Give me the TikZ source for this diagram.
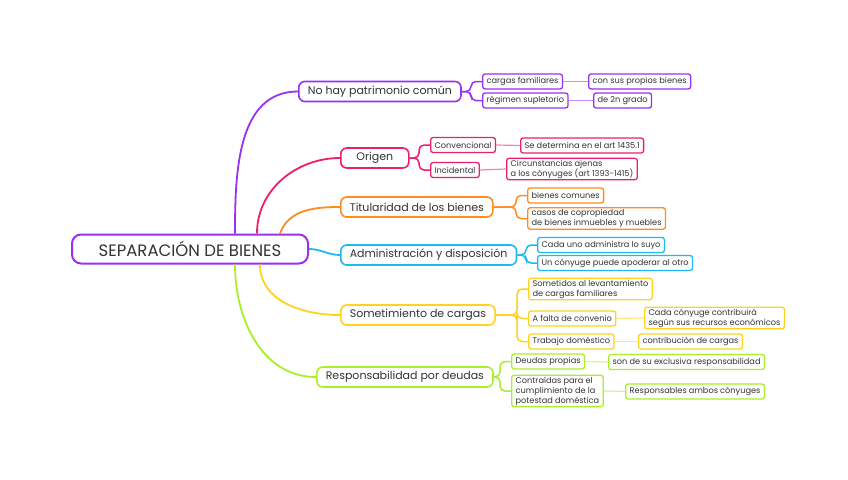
\documentclass[tikz,border=0pt]{standalone}
\usepackage{fontspec}
\setmainfont{Poppins}
\usetikzlibrary{positioning,calc}
\definecolor{mpurple}{HTML}{9B30F0}
\definecolor{mpink}{HTML}{EE1E6E}
\definecolor{morange}{HTML}{FF8C1E}
\definecolor{mcyan}{HTML}{1EB9F0}
\definecolor{myellow}{HTML}{FFD21E}
\definecolor{mlime}{HTML}{A8F028}
\definecolor{ink}{HTML}{333333}
\tikzset{
  rootbox/.style={
    rectangle, draw=#1, fill=white, line width=2pt, rounded corners=9pt,
    minimum width=236pt, minimum height=29pt,
    font=\fontsize{16.5}{18}\selectfont, text=ink
  },
  rootbox/.default=mpurple,
  topicbox/.style={
    rectangle, draw=#1, fill=white, line width=1.6pt, rounded corners=6pt,
    minimum height=20pt, inner xsep=9pt, inner ysep=1pt, anchor=west,
    font=\fontsize{11}{13}\selectfont, text=ink
  },
  topicbox/.default=mpurple,
  leafbox/.style={
    rectangle, draw=#1, fill=white, line width=1.3pt, rounded corners=2.5pt,
    minimum height=15pt, inner xsep=4pt, inner ysep=1.5pt, anchor=west,
    font=\fontsize{8.2}{10}\selectfont, text=ink, align=left
  },
  leafbox/.default=mpurple,
  branchline/.style={line width=1.8pt, color=#1},
  twigline/.style={line width=1.5pt, color=#1, rounded corners=5pt},
  linkline/.style={line width=1.2pt, color=#1!55},
}

\begin{document}
\begin{tikzpicture}[x=1pt,y=-1pt]
  \fill[white] (0,0) rectangle (848,479);
  \useasboundingbox (0,0) rectangle (848,479);

  % Root
  \node[rootbox] (root) at (190,249) {SEPARACIÓN DE BIENES};

  % Topics
  \node[topicbox=mpurple] (patrim) at (298,91.5) {No hay patrimonio común};
  \node[topicbox=mpink, minimum width=68pt] (origen) at (340,158) {Origen};
  \node[topicbox=morange] (titul) at (340,207) {Titularidad de los bienes};
  \node[topicbox=mcyan] (admin) at (340,255) {Administración y disposición};
  \node[topicbox=myellow] (somet) at (340,315) {Sometimiento de cargas};
  \node[topicbox=mlime] (respon) at (316,377) {Responsabilidad por deudas};

  % Patrimonio leaves
  \node[leafbox=mpurple] (cargfam) at (482,81.5) {cargas familiares};
  \node[leafbox=mpurple] (propios) at (588,81.5) {con sus propios bienes};
  \node[leafbox=mpurple] (regimen) at (482,100.5) {régimen supletorio};
  \node[leafbox=mpurple] (grado) at (593,100.5) {de 2n grado};

  % Origen leaves
  \node[leafbox=mpink] (conv) at (430,145) {Convencional};
  \node[leafbox=mpink] (art) at (520,145.5) {Se determina en el art 1435.1};
  \node[leafbox=mpink] (incid) at (430,170) {Incidental};
  \node[leafbox=mpink] (circ) at (506,169) {Circunstancias ajenas\\a los cónyuges (art 1393-1415)};

  % Titularidad leaves
  \node[leafbox=morange] (comunes) at (527,195.5) {bienes comunes};
  \node[leafbox=morange] (copro) at (527,218.5) {casos de copropiedad\\de bienes inmuebles y muebles};

  % Administracion leaves
  \node[leafbox=mcyan] (cadauno) at (537,245) {Cada uno administra lo suyo};
  \node[leafbox=mcyan] (apoder) at (537,263) {Un cónyuge puede apoderar al otro};

  % Sometimiento leaves
  \node[leafbox=myellow] (levant) at (528,289) {Sometidos al levantamiento\\de cargas familiares};
  \node[leafbox=myellow] (falta) at (528,318.5) {A falta de convenio};
  \node[leafbox=myellow] (recur) at (644,318) {Cada cónyuge contribuirá\\según sus recursos económicos};
  \node[leafbox=myellow] (trabajo) at (528,341.5) {Trabajo doméstico};
  \node[leafbox=myellow] (contrib) at (638,341.5) {contribución de cargas};

  % Responsabilidad leaves
  \node[leafbox=mlime] (dpropia) at (511,361.5) {Deudas propias};
  \node[leafbox=mlime] (exclus) at (608,362) {son de su exclusiva responsabilidad};
  \node[leafbox=mlime] (contra) at (511,391) {Contraídas para el\\cumplimiento de la\\potestad doméstica};
  \node[leafbox=mlime] (ambos) at (625,391.5) {Responsables ambos cónyuges};

  % Root branches
  \draw[branchline=mpurple] ([xshift=45pt]root.north) to[out=90,in=180] (patrim.west);
  \draw[branchline=mpink] ([xshift=67pt]root.north) to[out=90,in=180] (origen.west);
  \draw[branchline=morange] ([xshift=90pt]root.north) to[out=70,in=180] (titul.west);
  \draw[branchline=mcyan] (root.east) to[out=0,in=180] (admin.west);
  \draw[branchline=myellow] ([xshift=70pt]root.south) to[out=-90,in=180] (somet.west);
  \draw[branchline=mlime] ([xshift=45pt]root.south) to[out=-90,in=180] (respon.west);

  % Twigs
  \draw[twigline=mpurple] (patrim.east) -| ([xshift=-11pt]cargfam.west) -- (cargfam.west);
  \draw[twigline=mpurple] (patrim.east) -| ([xshift=-11pt]regimen.west) -- (regimen.west);
  \draw[twigline=mpink] (origen.east) -| ([xshift=-11pt]conv.west) -- (conv.west);
  \draw[twigline=mpink] (origen.east) -| ([xshift=-11pt]incid.west) -- (incid.west);
  \draw[twigline=morange] (titul.east) -| ([xshift=-11pt]comunes.west) -- (comunes.west);
  \draw[twigline=morange] (titul.east) -| ([xshift=-11pt]copro.west) -- (copro.west);
  \draw[twigline=mcyan] (admin.east) -| ([xshift=-11pt]cadauno.west) -- (cadauno.west);
  \draw[twigline=mcyan] (admin.east) -| ([xshift=-11pt]apoder.west) -- (apoder.west);
  \draw[twigline=myellow] (somet.east) -| ([xshift=-11pt]levant.west) -- (levant.west);
  \draw[twigline=myellow] (somet.east) -| ([xshift=-11pt]falta.west) -- (falta.west);
  \draw[twigline=myellow] (somet.east) -| ([xshift=-11pt]trabajo.west) -- (trabajo.west);
  \draw[twigline=mlime] (respon.east) -| ([xshift=-11pt]dpropia.west) -- (dpropia.west);
  \draw[twigline=mlime] (respon.east) -| ([xshift=-11pt]contra.west) -- (contra.west);

  % Leaf links
  \draw[linkline=mpurple] (cargfam.east) -- (propios.west);
  \draw[linkline=mpurple] (regimen.east) -- (grado.west);
  \draw[linkline=mpink] (conv.east) -- (art.west);
  \draw[linkline=mpink] (incid.east) -- (circ.west);
  \draw[linkline=myellow] (falta.east) -- (recur.west);
  \draw[linkline=myellow] (trabajo.east) -- (contrib.west);
  \draw[linkline=mlime] (dpropia.east) -- (exclus.west);
  \draw[linkline=mlime] (contra.east) -- (ambos.west);
\end{tikzpicture}
\end{document}
